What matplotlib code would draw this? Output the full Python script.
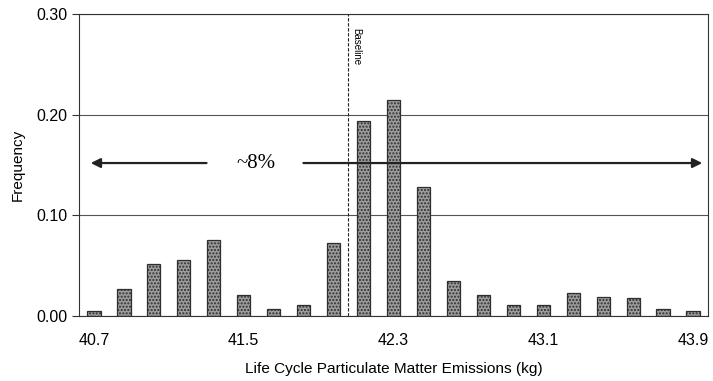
import matplotlib.pyplot as plt
import numpy as np

plt.rcParams['font.family'] = ['Liberation Sans', 'DejaVu Sans']

# bin centres of the emissions histogram (kg)
bins = ['40.7', '40.86', '41.02', '41.18', '41.34', '41.5', '41.66', '41.82', '41.98',
        '42.14', '42.3', '42.46', '42.62', '42.78', '42.94', '43.1', '43.26', '43.42',
        '43.58', '43.74', '43.9']
freq = [0.005, 0.027, 0.052, 0.056, 0.076, 0.021, 0.0066, 0.0106, 0.0725,
        0.194, 0.2145, 0.128, 0.035, 0.0205, 0.0112, 0.0112, 0.023, 0.019,
        0.0175, 0.007, 0.005]
tick_labels = ['40.7', '41.5', '42.3', '43.1', '43.9']
baseline = 42.055
yticks = [0.0, 0.1, 0.2, 0.3]

fig = plt.figure(figsize=(7.13, 3.81), dpi=100)
ax = fig.add_axes([0.1108, 0.1706, 0.8822, 0.7924])

x = np.arange(len(bins))
ax.bar(x, freq, width=0.44, facecolor='#9c9c9c', edgecolor='#2e2e2e',
       hatch='.....', linewidth=0.9, zorder=3)

ax.set_xlim(-0.5, len(bins) - 0.5)
ax.set_ylim(0, 0.30)
ax.set_yticks(yticks)
ax.set_yticklabels(['%.2f' % v for v in yticks])
ax.set_xticks([bins.index(t) for t in tick_labels])
ax.set_xticklabels(tick_labels)
ax.tick_params(axis='x', length=0, pad=12, labelsize=11.5)
ax.tick_params(axis='y', length=5, width=0.8, direction='out', labelsize=11.5, color='#333333')
ax.grid(axis='y', color='#555555', linewidth=0.8, zorder=0)

for s in ax.spines.values():
    s.set_color('#333333')
    s.set_linewidth(0.8)

ax.set_xlabel('Life Cycle Particulate Matter Emissions (kg)', fontsize=11.1, labelpad=10)
ax.set_ylabel('Frequency', fontsize=11, labelpad=8)

# baseline marker, in category coordinates
step = float(bins[1]) - float(bins[0])
bx = (baseline - float(bins[0])) / step
ax.axvline(bx, color='#222222', linestyle=(0, (3, 1.5)), linewidth=0.8, zorder=4)
ax.text(bx + 0.12, 0.286, 'Baseline', rotation=270, fontsize=7, va='top', ha='left')

# arrows showing the ~8% spread
ay = 0.152
ax.annotate('', xy=(-0.2, ay), xytext=(3.85, ay), annotation_clip=False,
            arrowprops=dict(arrowstyle='-|>', color='#222222', lw=1.6, mutation_scale=14))
ax.annotate('', xy=(20.4, ay), xytext=(6.9, ay), annotation_clip=False,
            arrowprops=dict(arrowstyle='-|>', color='#222222', lw=1.6, mutation_scale=14))
ax.text(5.4, ay, '~8%', fontsize=15, family=['Liberation Serif', 'DejaVu Serif'],
        ha='center', va='center')

fig.savefig('out.png', dpi=100)
